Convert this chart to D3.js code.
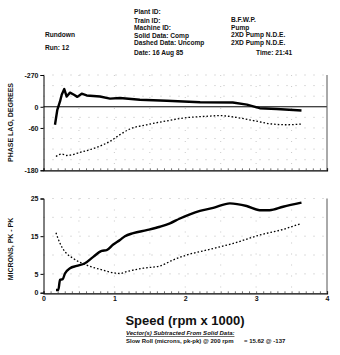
<!DOCTYPE html>
<html>
<head>
<meta charset="utf-8">
<script src="https://cdn.jsdelivr.net/npm/d3@7"></script>
<style>
body { margin: 0; background: #fff; }
svg text { font-family: "Liberation Sans", Arial, sans-serif; fill: #111; }
</style>
</head>
<body>
<script>
// phase, solid (compensated)
var phaseSolidSpeed = [0.162, 0.195, 0.233, 0.257, 0.293, 0.327, 0.374, 0.43, 0.477, 0.539, 0.609, 0.797, 0.938, 1.079, 1.36, 1.74, 2.21, 2.67, 2.87, 3.05, 3.29, 3.64];
var phaseSolid = [-51, -8.5, 15, 34, 50, 29, 40, 34, 28, 37, 32, 29, 23, 25, 20, 17, 13, 12, 6, -4, -6.5, -10.5];
// phase, dashed (uncompensated)
var phaseDashSpeed = [0.176, 0.257, 0.327, 0.539, 0.75, 0.938, 1.079, 1.22, 1.456, 1.74, 1.97, 2.3, 2.49, 2.68, 2.96, 3.19, 3.43, 3.64];
var phaseDash = [-141, -134, -138, -128, -115, -98, -79, -63, -51, -40, -32, -27, -25, -29, -39, -48, -51, -49];
// amplitude, solid
var ampSolidSpeed = [0.176, 0.209, 0.233, 0.271, 0.303, 0.374, 0.468, 0.585, 0.702, 0.821, 0.891, 0.984, 1.079, 1.149, 1.267, 1.456, 1.643, 1.784, 1.925, 2.066, 2.207, 2.395, 2.63, 2.866, 3.05, 3.19, 3.38, 3.64];
var ampSolid = [0.7, 0.7, 3.4, 3.6, 5.1, 6.5, 7.1, 7.8, 9.5, 11.1, 11.3, 12.8, 14, 15, 15.8, 16.6, 17.5, 18.4, 19.7, 20.8, 21.7, 22.5, 23.7, 23, 21.9, 21.9, 22.8, 23.9];
// amplitude, dashed
var ampDashSpeed = [0.176, 0.233, 0.303, 0.42, 0.609, 0.797, 0.984, 1.079, 1.173, 1.408, 1.643, 1.83, 2.02, 2.3, 2.68, 3.05, 3.38, 3.64];
var ampDash = [15.9, 13.1, 10.9, 9.1, 7.3, 6.2, 5.3, 5.1, 5.6, 6.5, 7.1, 8.7, 10, 11.3, 13.1, 15.3, 16.8, 18.4];

var phaseTicks = [90, 0, -60, -180];
var phaseTickLabels = ["-270", "0", "-60", "-180"];
var ampTicks = [0, 5, 15, 25];
var speedTicks = [0, 1, 2, 3, 4];

var svg = d3.select("body").append("svg").attr("width", 340).attr("height", 355);

var x = d3.scaleLinear().domain([0, 4]).range([43.5, 327]);
var yP = d3.scaleLinear().domain([90, -180]).range([75, 170.3]);
var yA = d3.scaleLinear().domain([0, 25]).range([292.7, 198.5]);

// header
var hdr = svg.append("g").attr("font-size", 6.6).attr("font-weight", "bold");
var hdrLines = [
  ["Plant ID:", 134, 14.2], ["Train ID:", 134, 22.5], ["Machine ID:", 134, 30.2],
  ["Solid Data: Comp", 134, 37.7], ["Dashed Data: Uncomp", 134, 45.4], ["Date: 16 Aug 85", 134, 54.5],
  ["B.F.W.P.", 231, 22.2], ["Pump", 231, 30], ["2XD Pump N.D.E.", 231, 37.4], ["2XD Pump N.D.E.", 231, 44.7],
  ["Time: 21:41", 256, 54.5], ["Rundown", 45, 36.7], ["Run: 12", 45, 50.4]
];
hdr.selectAll("text").data(hdrLines).enter().append("text")
  .attr("x", function (d) { return d[1]; })
  .attr("y", function (d) { return d[2]; })
  .text(function (d) { return d[0]; });

function grid(g, y, vals, y0, y1) {
  g.selectAll("line.h").data(vals).enter().append("line")
    .attr("x1", x(0)).attr("x2", x(4))
    .attr("y1", function (d) { return y(d); }).attr("y2", function (d) { return y(d); })
    .attr("stroke", "#aaa").attr("stroke-width", 0.8).attr("stroke-dasharray", "1,8");
  g.selectAll("line.v").data(d3.range(0.5, 4, 0.5)).enter().append("line")
    .attr("x1", function (d) { return x(d); }).attr("x2", function (d) { return x(d); })
    .attr("y1", y0).attr("y2", y1)
    .attr("stroke", "#bbb").attr("stroke-width", 0.8).attr("stroke-dasharray", "1,10");
}

function speedAxis(yPos, labels) {
  var ax = d3.axisTop(x).tickValues(d3.range(0, 4.01, 0.1)).tickSize(2).tickFormat("");
  var g = svg.append("g").attr("transform", "translate(0," + yPos + ")").call(ax);
  g.select(".domain").attr("stroke", "#000").attr("stroke-width", 1.2);
  g.selectAll(".tick line").attr("stroke", "#333").attr("stroke-width", 0.7);
  if (labels) {
    var g2 = svg.append("g").attr("transform", "translate(0," + yPos + ")")
      .call(d3.axisBottom(x).tickValues(speedTicks).tickSize(0).tickPadding(3).tickFormat(d3.format("d")));
    g2.select(".domain").remove();
    g2.selectAll("text").attr("font-size", 7).attr("font-weight", "bold")
      .attr("font-family", "Liberation Sans, Arial, sans-serif");
  }
}

// ----- phase plot -----
var gp = svg.append("g");
grid(gp, yP, [90, 60, 30, -30, -60, -90, -120, -150], 75, 170);
gp.append("line").attr("x1", x(0)).attr("x2", x(4)).attr("y1", yP(0)).attr("y2", yP(0))
  .attr("stroke", "#000").attr("stroke-width", 1);
gp.append("line").attr("x1", x(4)).attr("x2", x(4)).attr("y1", yP(90)).attr("y2", yP(-180))
  .attr("stroke", "#555").attr("stroke-width", 1);
var axP = svg.append("g").attr("transform", "translate(" + x(0) + ",0)")
  .call(d3.axisLeft(yP).tickValues(phaseTicks).tickSize(3).tickPadding(2)
    .tickFormat(function (d, i) { return phaseTickLabels[i]; }));
axP.select(".domain").attr("stroke", "#000").attr("stroke-width", 1);
axP.selectAll("text").attr("font-size", 7).attr("font-weight", "bold")
  .attr("font-family", "Liberation Sans, Arial, sans-serif");
speedAxis(yP(-180), false);

var lineP = d3.line().x(function (d) { return x(d[0]); }).y(function (d) { return yP(d[1]); }).curve(d3.curveMonotoneX);
gp.append("path").datum(d3.zip(phaseDashSpeed, phaseDash)).attr("d", lineP)
  .attr("fill", "none").attr("stroke", "#000").attr("stroke-width", 1.3).attr("stroke-dasharray", "1.6,2");
gp.append("path").datum(d3.zip(phaseSolidSpeed, phaseSolid)).attr("d", d3.line().x(function (d) { return x(d[0]); }).y(function (d) { return yP(d[1]); }))
  .attr("fill", "none").attr("stroke", "#000").attr("stroke-width", 2.4).attr("stroke-linejoin", "round");

// ----- amplitude plot -----
var ga = svg.append("g");
grid(ga, yA, [25, 20, 15, 10, 5], 198.5, 293);
ga.append("line").attr("x1", x(4)).attr("x2", x(4)).attr("y1", yA(25)).attr("y2", yA(0))
  .attr("stroke", "#555").attr("stroke-width", 1);
var axA = svg.append("g").attr("transform", "translate(" + x(0) + ",0)")
  .call(d3.axisLeft(yA).tickValues(ampTicks).tickSize(3).tickPadding(2));
axA.select(".domain").attr("stroke", "#000").attr("stroke-width", 1);
axA.selectAll("text").attr("font-size", 7).attr("font-weight", "bold")
  .attr("font-family", "Liberation Sans, Arial, sans-serif");
speedAxis(293.3, true);

var lineA = d3.line().x(function (d) { return x(d[0]); }).y(function (d) { return yA(d[1]); }).curve(d3.curveMonotoneX);
ga.append("path").datum(d3.zip(ampDashSpeed, ampDash)).attr("d", lineA)
  .attr("fill", "none").attr("stroke", "#000").attr("stroke-width", 1.3).attr("stroke-dasharray", "1.6,2");
ga.append("path").datum(d3.zip(ampSolidSpeed, ampSolid)).attr("d", lineA)
  .attr("fill", "none").attr("stroke", "#000").attr("stroke-width", 2.4).attr("stroke-linejoin", "round");

// axis titles
svg.append("text").attr("transform", "translate(12.5,122.5) rotate(-90)").attr("text-anchor", "middle")
  .attr("font-size", 7).attr("font-weight", "bold").text("PHASE LAG, DEGREES");
svg.append("text").attr("transform", "translate(12.5,249) rotate(-90)").attr("text-anchor", "middle")
  .attr("font-size", 7).attr("font-weight", "bold").text("MICRONS, PK - PK");
svg.append("text").attr("x", 185).attr("y", 325).attr("text-anchor", "middle")
  .attr("font-size", 13).attr("font-weight", "bold").text("Speed (rpm x 1000)");

// footer
svg.append("text").attr("x", 126).attr("y", 335).attr("font-size", 6).attr("font-weight", "bold")
  .attr("font-style", "italic").attr("text-decoration", "underline").text("Vector(s) Subtracted From Solid Data:");
svg.append("text").attr("x", 126).attr("y", 342.7).attr("font-size", 6).attr("font-weight", "bold")
  .text("Slow Roll (microns, pk-pk) @ 200 rpm");
svg.append("text").attr("x", 244).attr("y", 342.7).attr("font-size", 6).attr("font-weight", "bold")
  .text("= 15.62 @ -137");
</script>
</body>
</html>
